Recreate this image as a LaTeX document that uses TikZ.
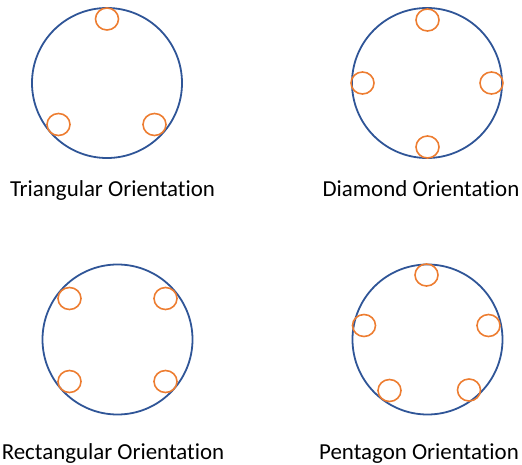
\documentclass[tikz,border=0pt]{standalone}
\usepackage{fontspec}
\setmainfont{Carlito}[Ligatures=NoCommon]
\usetikzlibrary{shapes.geometric}
\definecolor{ringblue}{HTML}{2F5597}
\definecolor{dotorange}{HTML}{ED7D31}
\tikzset{
  ring/.style={circle, draw=ringblue, line width=1.8pt, minimum size=150pt, inner sep=0pt},
  dot/.style={ellipse, draw=dotorange, line width=1.6pt, minimum width=23pt, minimum height=22pt, inner sep=0pt},
  caption/.style={anchor=base, inner sep=0pt, font=\fontsize{22.9}{27}\selectfont, text=black}
}
\begin{document}
\begin{tikzpicture}[x=1pt,y=-1pt]
\useasboundingbox (0,0) rectangle (522,465);
% Triangular
\node[ring] (t) at (107,83) {};
\node[dot] (t1) at (107,19) {};
\node[dot] (t2) at (58.5,124.5) {};
\node[dot] (t3) at (154.5,124.5) {};
\node[caption] (tl) at (112.5,197) {Triangular Orientation};
% Diamond
\node[ring] (d) at (427,83) {};
\node[dot] (d1) at (427.5,20) {};
\node[dot] (d2) at (362.5,83) {};
\node[dot] (d3) at (491.5,83) {};
\node[dot] (d4) at (427.5,147) {};
\node[caption] (dl) at (421,197) {Diamond Orientation};
% Rectangular
\node[ring] (r) at (117.5,339.5) {};
\node[dot] (r1) at (69.5,298.5) {};
\node[dot] (r2) at (165.5,298.5) {};
\node[dot] (r3) at (69.5,381.5) {};
\node[dot] (r4) at (165.5,381.5) {};
\node[caption] (rl) at (113,459) {Rectangular Orientation};
% Pentagon
\node[ring] (p) at (427.5,339.5) {};
\node[dot] (p1) at (426.5,275) {};
\node[dot] (p2) at (364,325.5) {};
\node[dot] (p3) at (488.5,325.5) {};
\node[dot] (p4) at (389.5,390.5) {};
\node[dot] (p5) at (469,390) {};
\node[caption] (pl) at (419,459) {Pentagon Orientation};
\end{tikzpicture}
\end{document}
